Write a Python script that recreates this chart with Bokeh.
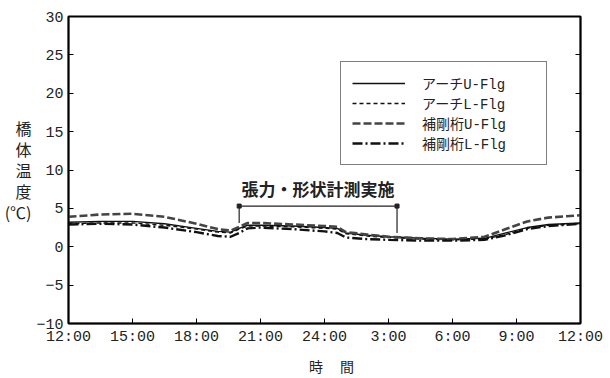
from bokeh.plotting import figure
from bokeh.models import (Range1d, FixedTicker, LinearAxis, Legend, LegendItem,
                          ColumnDataSource)
from bokeh.embed import file_html
from bokeh.resources import INLINE
from bokeh.core.properties import value

# ---- data (hours after 12:00) ----
hours = [0, 1.5, 3, 4.5, 6, 7, 7.6, 8.0, 8.4, 9, 10.5, 12, 12.6, 13.0, 14, 15, 16.5, 18, 19.5, 20.5, 21.5, 22.5, 24]
arch_u = [3.2, 3.3, 3.3, 3.0, 2.4, 2.0, 1.9, 2.4, 2.8, 2.8, 2.7, 2.5, 2.4, 1.8, 1.5, 1.3, 1.1, 1.0, 1.1, 1.8, 2.5, 2.9, 3.1]
arch_l = [3.0, 3.1, 3.1, 2.8, 2.3, 1.9, 1.8, 2.3, 2.7, 2.7, 2.6, 2.4, 2.3, 1.7, 1.4, 1.2, 1.0, 0.9, 1.0, 1.6, 2.4, 2.8, 3.0]
girder_u = [3.9, 4.2, 4.3, 3.9, 3.0, 2.3, 2.1, 2.6, 3.1, 3.1, 2.9, 2.7, 2.6, 1.9, 1.6, 1.3, 1.1, 1.0, 1.3, 2.3, 3.3, 3.8, 4.1]
girder_l = [2.9, 3.0, 2.9, 2.5, 1.9, 1.4, 1.3, 1.8, 2.4, 2.5, 2.3, 2.0, 1.8, 1.2, 1.0, 0.9, 0.8, 0.8, 0.9, 1.5, 2.3, 2.7, 3.0]

series_names = ["アーチU-Flg", "アーチL-Flg", "補剛桁U-Flg", "補剛桁L-Flg"]

x_ticks = [0, 3, 6, 9, 12, 15, 18, 21, 24]
x_tick_labels = ["12:00", "15:00", "18:00", "21:00", "24:00", "3:00", "6:00", "9:00", "12:00"]
y_ticks = [-10, -5, 0, 5, 10, 15, 20, 25, 30]
y_tick_labels = ["−10", "−5", "0", "5", "10", "15", "20", "25", "30"]

# measurement period bracket
measure_start = 8.0
measure_end = 15.4
measure_left_low = 3.1
measure_right_low = 1.8
bracket_level = 5.3
measure_text = "張力・形状計測実施"
measure_text_x = 11.7
measure_text_y = 6.0

p = figure(width=608, height=378, output_backend="svg", toolbar_location=None,
           x_range=Range1d(0, 24), y_range=Range1d(-10, 30),
           min_border_left=68, min_border_right=28, min_border_top=16, min_border_bottom=52)
p.grid.visible = False
p.outline_line_color = "black"
p.outline_line_width = 2
p.background_fill_color = "white"
p.border_fill_color = "white"

p.xaxis.ticker = FixedTicker(ticks=x_ticks)
p.xaxis.major_label_overrides = {t: l for t, l in zip(x_ticks, x_tick_labels)}
p.yaxis.ticker = FixedTicker(ticks=y_ticks)
p.yaxis.major_label_overrides = {t: l for t, l in zip(y_ticks, y_tick_labels)}
for ax in [p.xaxis[0], p.yaxis[0]]:
    ax.major_tick_in = 5
    ax.major_tick_out = 0
    ax.minor_tick_in = 0
    ax.minor_tick_out = 0
    ax.axis_line_width = 1.5
    ax.major_tick_line_width = 1
    ax.major_label_text_font = "Liberation Mono"
    ax.major_label_text_font_size = "15px"
    ax.major_label_text_color = "#222222"
    ax.major_label_standoff = 5

p.xaxis.axis_label = "\u3000時\u3000 間"
p.xaxis.axis_label_text_font = "Noto Sans CJK JP"
p.xaxis.axis_label_text_font_size = "14px"
p.xaxis.axis_label_text_font_style = "normal"
p.xaxis.axis_label_text_color = "#222222"
p.xaxis.axis_label_text_line_height = 0.8
p.xaxis.axis_label_standoff = 7

p.yaxis.axis_label = "橋\n体\n温\n度\n(℃)"
p.yaxis.axis_label_orientation = "horizontal"
p.yaxis.axis_label_text_font = "Noto Sans CJK JP"
p.yaxis.axis_label_text_font_size = "16px"
p.yaxis.axis_label_text_font_style = "normal"
p.yaxis.axis_label_text_color = "#222222"
p.yaxis.axis_label_text_line_height = 0.88
p.yaxis.axis_label_standoff = 2

right_axis = LinearAxis(ticker=FixedTicker(ticks=y_ticks), major_tick_in=5, major_tick_out=0,
                        minor_tick_in=0, minor_tick_out=0, axis_line_width=1.5,
                        major_label_overrides={t: "" for t in y_ticks})
p.add_layout(right_axis, "right")

src = ColumnDataSource(dict(x=hours, au=arch_u, al=arch_l, gu=girder_u, gl=girder_l))
r1 = p.line("x", "au", source=src, line_color="#111111", line_width=1.4)
r2 = p.line("x", "al", source=src, line_color="#111111", line_width=1.4, line_dash="4 3")
r3 = p.line("x", "gu", source=src, line_color="#444444", line_width=2.6, line_dash="8 3")
r4 = p.line("x", "gl", source=src, line_color="#111111", line_width=2.4, line_dash="10 3 2 3")

# bracket
p.line(x=[measure_start, measure_start, measure_end, measure_end],
       y=[measure_left_low, bracket_level, bracket_level, measure_right_low],
       line_color="#222222", line_width=1.2)
p.scatter(x=[measure_start, measure_end], y=[bracket_level, bracket_level], marker="square",
          size=4, color="#222222")
p.text(x=[measure_text_x], y=[measure_text_y], text=[measure_text], text_align="center",
       text_baseline="bottom", text_font=value("Noto Sans CJK JP"), text_font_size="17px",
       text_font_style="bold", text_color="#222222")

legend = Legend(items=[LegendItem(label=n, renderers=[r]) for n, r in zip(series_names, [r1, r2, r3, r4])],
                location=(272, 158), border_line_color="black", border_line_width=1.5,
                padding=11, spacing=-2, glyph_width=53, glyph_height=14, label_height=14,
                label_width=113, label_standoff=17, label_text_font="Liberation Mono, Noto Sans CJK JP",
                label_text_font_size="14px", label_text_line_height=1.0,
                label_text_color="#222222", background_fill_alpha=1.0, margin=0)
p.add_layout(legend)

open("out.html", "w").write(file_html(p, INLINE))
